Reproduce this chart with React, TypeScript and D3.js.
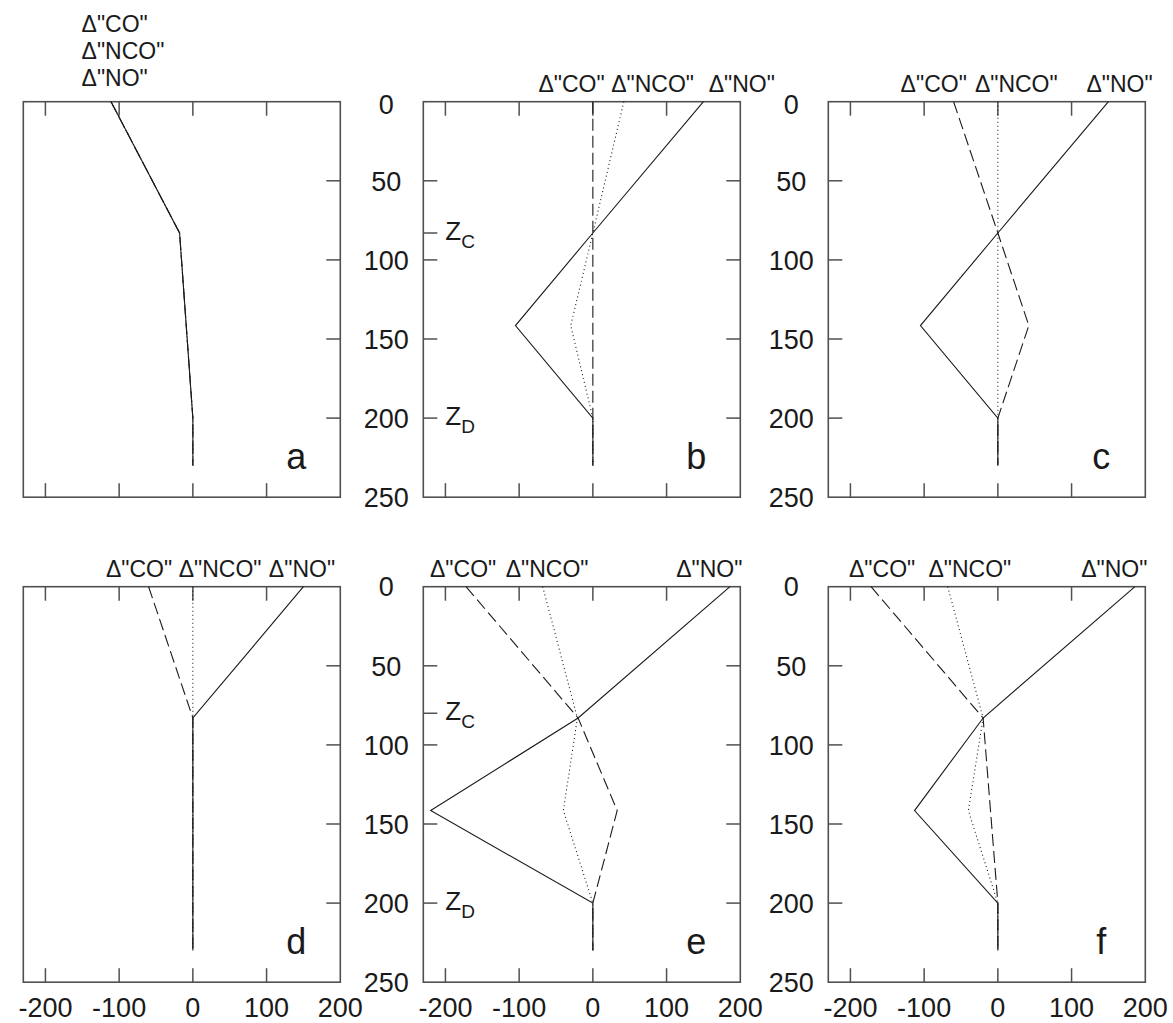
import React, { useEffect, useRef } from 'react';
import * as d3 from 'd3';

// depth levels where the profiles change slope
const depths = [0, 83, 141.5, 200, 230];

const panelNames = ['a', 'b', 'c', 'd', 'e', 'f'];
const seriesNames = ['\u0394"CO"', '\u0394"NCO"', '\u0394"NO"'];

// values at each depth, one row per panel
const coValues = [
  [-111, -18, -9, 0, 0],
  [0, 0, 0, 0, 0],
  [-60, 0, 42, 0, 0],
  [-60, 0, 0, 0, 0],
  [-172, -20, 33, 0, 0],
  [-172, -20, -10, 0, 0],
];
const ncoValues = [
  [-111, -18, -9, 0, 0],
  [42, 0, -30, 0, 0],
  [0, 0, 0, 0, 0],
  [0, 0, 0, 0, 0],
  [-68, -21, -40, 0, 0],
  [-68, -20, -40, 0, 0],
];
const noValues = [
  [-111, -18, -9, 0, 0],
  [150, 0, -105, 0, 0],
  [150, 0, -105, 0, 0],
  [150, 0, 0, 0, 0],
  [186, -20, -220, 0, 0],
  [186, -20, -113, 0, 0],
];

// where the series names sit above each panel (x in data units)
const coLabelAt = [-151, -29, -87, -73, -176, -157];
const ncoLabelAt = [-151, 81, 25, 37, -62, -38];
const noLabelAt = [-151, 202, 165, 148, 158, 158];

// Zc / Zd markers (depth) for panels that carry them
const zcMarks = [null, 83, null, null, 80, null];
const zdMarks = [null, 200, null, null, 200, null];

const xDomain = [-230, 200];
const yDomain = [0, 250];
const xTicks = [-200, -100, 0, 100];
const xTickLabels = [-200, -100, 0, 100, 200];
const yTicks = [50, 100, 150, 200];
const yTickLabels = [0, 50, 100, 150, 200, 250];

const FONT = "'Liberation Sans', Arial, Helvetica, sans-serif";

const App = () => {
  const ref = useRef(null);

  useEffect(() => {
    const svg = d3.select(ref.current);
    svg.selectAll('*').remove();

    const lefts = [23.3, 423.3, 828.3];
    const tops = [101.7, 586.7];
    const w = 317;
    const h = 395.5;
    const tickLen = 14;
    const ink = '#1a1a1a';
    const frame = '#505050';

    const styles = [
      { dash: null },
      { dash: '12,5' },
      { dash: '1,3' },
    ];

    panelNames.forEach((name, i) => {
      const col = i % 3;
      const row = Math.floor(i / 3);
      const x = d3.scaleLinear().domain(xDomain).range([lefts[col], lefts[col] + w]);
      const y = d3.scaleLinear().domain(yDomain).range([tops[row], tops[row] + h]);
      const g = svg.append('g');

      // frame
      g.append('rect')
        .attr('x', x(xDomain[0])).attr('y', y(0))
        .attr('width', w).attr('height', h)
        .attr('fill', 'none').attr('stroke', frame).attr('stroke-width', 1.6);

      // x ticks, top and bottom, pointing inward
      xTicks.forEach(t => {
        g.append('line').attr('x1', x(t)).attr('x2', x(t))
          .attr('y1', y(0)).attr('y2', y(0) + tickLen)
          .attr('stroke', frame).attr('stroke-width', 1.5);
        g.append('line').attr('x1', x(t)).attr('x2', x(t))
          .attr('y1', y(250)).attr('y2', y(250) - tickLen)
          .attr('stroke', frame).attr('stroke-width', 1.5);
      });

      // y ticks on the sides facing neighbouring panels
      const leftTicks = col > 0 ? [...yTicks] : [];
      if (zcMarks[i] != null) leftTicks.push(zcMarks[i]);
      leftTicks.forEach(t => {
        g.append('line').attr('x1', x(xDomain[0])).attr('x2', x(xDomain[0]) + tickLen)
          .attr('y1', y(t)).attr('y2', y(t))
          .attr('stroke', frame).attr('stroke-width', 1.5);
      });
      if (col < 2) {
        yTicks.forEach(t => {
          g.append('line').attr('x1', x(xDomain[1])).attr('x2', x(xDomain[1]) - tickLen)
            .attr('y1', y(t)).attr('y2', y(t))
            .attr('stroke', frame).attr('stroke-width', 1.5);
        });
      }

      // y tick labels between panels
      if (col > 0) {
        yTickLabels.forEach(t => {
          g.append('text')
            .attr('x', x(xDomain[0]) - 37).attr('y', y(t) + (t === 0 && row === 0 ? 3 : 0))
            .attr('dy', '0.36em')
            .attr('text-anchor', 'middle')
            .style('font-family', FONT).style('font-size', '27px')
            .attr('fill', ink)
            .text(t);
        });
      }

      // x tick labels on bottom row
      if (row === 1) {
        xTickLabels.forEach(t => {
          g.append('text')
            .attr('x', x(t)).attr('y', y(250) + 35)
            .attr('text-anchor', 'middle')
            .style('font-family', FONT).style('font-size', '27px')
            .attr('fill', ink)
            .text(t);
        });
      }

      // profiles
      const series = [noValues[i], coValues[i], ncoValues[i]];
      const line = d3.line<number>()
        .x(d => x(d))
        .y((d, k) => y(depths[k]));
      series.forEach((vals, s) => {
        const p = g.append('path')
          .attr('d', line(vals))
          .attr('fill', 'none')
          .attr('stroke', ink)
          .attr('stroke-width', 1.1);
        if (styles[s].dash) p.attr('stroke-dasharray', styles[s].dash);
      });

      // series labels above the panel
      const labelXs = [coLabelAt[i], ncoLabelAt[i], noLabelAt[i]];
      seriesNames.forEach((s, k) => {
        const t = g.append('text')
          .style('font-family', FONT).style('font-size', '23px')
          .attr('fill', ink)
          .text(s);
        if (i === 0) {
          t.attr('x', x(labelXs[k])).attr('y', y(0) - 70 + k * 27).attr('text-anchor', 'start');
        } else {
          t.attr('x', x(labelXs[k])).attr('y', y(0) - 10).attr('text-anchor', 'middle');
        }
      });

      // Zc / Zd annotations
      [[zcMarks[i], 'C'], [zdMarks[i], 'D']].forEach(([z, sub]) => {
        if (z == null) return;
        const t = g.append('text')
          .attr('x', x(xDomain[0]) + 22).attr('y', y(z as number) + 7)
          .style('font-family', FONT).style('font-size', '26px')
          .attr('fill', ink);
        t.append('tspan').text('Z');
        t.append('tspan').attr('dy', 8).style('font-size', '19px').text(sub as string);
      });

      // panel letter
      g.append('text')
        .attr('x', x(xDomain[1]) - 44).attr('y', y(250) - 28)
        .attr('text-anchor', 'middle')
        .style('font-family', FONT).style('font-size', '36px')
        .attr('fill', ink)
        .text(name);
    });
  }, []);

  return (
    <svg
      ref={ref}
      width={1173}
      height={1023}
      style={{ position: 'absolute', left: 0, top: 0, background: '#fff' }}
    />
  );
};

export default App;
